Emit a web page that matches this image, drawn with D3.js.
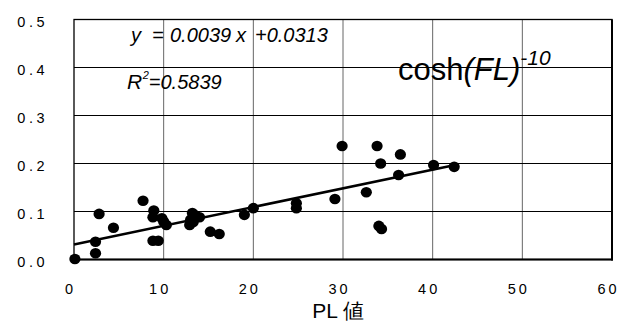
<!DOCTYPE html>
<html>
<head>
<meta charset="utf-8">
<script src="https://cdn.jsdelivr.net/npm/d3@7"></script>
<style>
  html, body { margin: 0; padding: 0; background: #fff; }
  svg { display: block; font-family: Arial, "Liberation Sans", sans-serif; }
</style>
</head>
<body>
<svg id="chart" width="626" height="325"></svg>
<script>
// ---- data ----
const pointsX = [0.1, 2.4, 2.4, 2.8, 4.4, 7.7, 8.9, 8.8, 9.8, 10.0, 10.3, 8.8, 9.4,
  13.2, 13.5, 13.0, 13.3, 12.9, 14.0, 15.2, 16.2, 19.0, 20.0, 24.8, 24.8,
  29.1, 29.9, 32.6, 33.8, 34.0, 34.2, 34.3, 36.2, 36.4, 40.1, 42.4];
const pointsY = [0.001, 0.013, 0.037, 0.095, 0.066, 0.1225, 0.102, 0.088, 0.086, 0.079, 0.072, 0.039, 0.039,
  0.097, 0.092, 0.083, 0.078, 0.072, 0.088, 0.058, 0.053, 0.093, 0.107, 0.117, 0.107,
  0.126, 0.2365, 0.14, 0.2365, 0.07, 0.2, 0.0635, 0.176, 0.219, 0.197, 0.193];
const xTicks = [0, 10, 20, 30, 40, 50, 60];
const yTicks = [0, 0.1, 0.2, 0.3, 0.4, 0.5];
const slope = 0.0039, intercept = 0.0313;
const fitRange = [0, 42.5];
const xTitle = "PL 値";

// ---- layout ----
const svg = d3.select("#chart");
const L = 74, R = 612, T = 19.5, B = 259.5;
const x = d3.scaleLinear().domain([0, 60]).range([L, R]);
const y = d3.scaleLinear().domain([0, 0.5]).range([B, T]);

svg.append("rect").attr("width", 626).attr("height", 325).attr("fill", "#fff");

// grid
svg.append("g").selectAll("line").data(xTicks.filter(d => d > 0 && d < 60)).join("line")
  .attr("x1", d => x(d)).attr("x2", d => x(d)).attr("y1", T).attr("y2", B)
  .attr("stroke", "#666").attr("stroke-width", 1);
svg.append("g").selectAll("line").data(yTicks.filter(d => d > 0 && d < 0.5)).join("line")
  .attr("x1", L).attr("x2", R).attr("y1", d => y(d)).attr("y2", d => y(d))
  .attr("stroke", "#000").attr("stroke-width", 1);

// frame
svg.append("rect").attr("x", L).attr("y", T).attr("width", R - L).attr("height", B - T)
  .attr("fill", "none").attr("stroke", "#000").attr("stroke-width", 1.3);
svg.append("line").attr("x1", R).attr("x2", R).attr("y1", T).attr("y2", B + 1)
  .attr("stroke", "#000").attr("stroke-width", 2);
svg.append("line").attr("x1", L).attr("x2", R + 1).attr("y1", B).attr("y2", B)
  .attr("stroke", "#000").attr("stroke-width", 2);

// axes
const xAxis = d3.axisBottom(x).tickValues(xTicks).tickSize(0).tickPadding(24).tickFormat(d3.format("d"));
const gx = svg.append("g").attr("transform", `translate(0,${B})`).call(xAxis);
gx.select(".domain").remove();
gx.selectAll("text").attr("font-size", 14.5).attr("fill", "#000")
  .attr("letter-spacing", "3px").attr("dx", "-4")
  .attr("font-family", 'Arial, "Liberation Sans", sans-serif');

const yAxis = d3.axisLeft(y).tickValues(yTicks).tickSize(0).tickPadding(26).tickFormat(d3.format(".1f"));
const gy = svg.append("g").attr("transform", `translate(${L},0)`).call(yAxis);
gy.select(".domain").remove();
gy.selectAll("text").attr("font-size", 14.5).attr("fill", "#000")
  .attr("letter-spacing", "3.5px").attr("dy", "0.45em")
  .attr("font-family", 'Arial, "Liberation Sans", sans-serif');

// fit line
svg.append("line")
  .attr("x1", x(fitRange[0])).attr("y1", y(slope * fitRange[0] + intercept))
  .attr("x2", x(fitRange[1])).attr("y2", y(slope * fitRange[1] + intercept))
  .attr("stroke", "#000").attr("stroke-width", 2.5);

// points
svg.append("g").selectAll("ellipse").data(d3.range(pointsX.length)).join("ellipse")
  .attr("cx", i => x(pointsX[i])).attr("cy", i => y(pointsY[i]))
  .attr("rx", 5.6).attr("ry", 5.3).attr("fill", "#000");

// equation
const eq = svg.append("g").attr("font-size", 20).attr("font-style", "italic").attr("fill", "#000");
eq.append("text").attr("x", 131).attr("y", 42).text("y");
eq.append("text").attr("x", 152).attr("y", 42).text("=");
eq.append("text").attr("x", 170).attr("y", 42).text("0.0039");
eq.append("text").attr("x", 236).attr("y", 42).text("x");
eq.append("text").attr("x", 255).attr("y", 42).text("+0.0313");
const r2 = eq.append("text").attr("x", 127).attr("y", 88.5);
r2.append("tspan").attr("font-size", 21).text("R");
r2.append("tspan").attr("font-size", 11).attr("dy", -9.5).attr("dx", 0.5).text("2");
r2.append("tspan").attr("dy", 9.5).attr("dx", 0).text("=0.5839");

// cosh label
const c = svg.append("text").attr("x", 398).attr("y", 80).attr("font-size", 31).attr("fill", "#000");
c.append("tspan").text("cosh");
c.append("tspan").attr("font-style", "italic").text("(FL)");
c.append("tspan").attr("font-style", "italic").attr("font-size", 21).attr("dy", -15).text("-10");

// x title
svg.append("text").attr("x", 338).attr("y", 318).attr("text-anchor", "middle")
  .attr("font-size", 21).attr("fill", "#000").text(xTitle);
</script>
</body>
</html>
